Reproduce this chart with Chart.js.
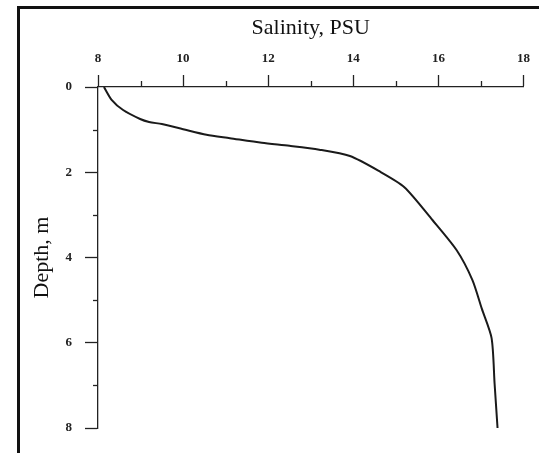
<!DOCTYPE html>
<html>
<head>
<meta charset="utf-8">
<script src="https://cdn.jsdelivr.net/npm/chart.js@4"></script>
<style>
  html, body { margin: 0; padding: 0; background: #fff; overflow: hidden; }
  #frame {
    position: absolute; left: 17px; top: 6px; width: 700px; height: 700px;
    border-left: 3px solid #111; border-top: 3px solid #111;
  }
  #profile { position: absolute; left: 0; top: 0; }
</style>
</head>
<body>
<div id="frame"></div>
<canvas id="profile" width="539" height="453"></canvas>
<script>
// Salinity profile
const salinity = [8.14, 8.32, 8.59, 8.99, 9.2, 9.5, 10.0, 10.55, 11.1, 11.85, 12.5, 13.2, 13.92, 14.6, 15.2, 15.86, 16.43, 16.8, 17.02, 17.25, 17.32, 17.39];
const depth    = [0, 0.3, 0.54, 0.75, 0.82, 0.87, 0.99, 1.12, 1.2, 1.31, 1.38, 1.47, 1.62, 1.97, 2.35, 3.12, 3.83, 4.53, 5.2, 5.89, 6.95, 8.0];

// axis ticks
const salinityTicks = [8, 10, 12, 14, 16, 18];
const salinityMinor = [9, 11, 13, 15, 17];
const depthTicks = [0, 2, 4, 6, 8];
const depthMinor = [1, 3, 5, 7];

const points = salinity.map((s, i) => ({ x: s, y: depth[i] }));

const axisColor = '#222';

// short minor ticks drawn outside the axes
const minorTicks = {
  id: 'minorTicks',
  afterDraw(chart) {
    const { ctx, chartArea, scales } = chart;
    ctx.save();
    ctx.strokeStyle = axisColor;
    ctx.lineWidth = 1.3;
    salinityMinor.forEach(v => {
      const px = Math.round(scales.x.getPixelForValue(v)) + 0.5;
      ctx.beginPath();
      ctx.moveTo(px, chartArea.top);
      ctx.lineTo(px, chartArea.top - 6);
      ctx.stroke();
    });
    depthMinor.forEach(v => {
      const py = Math.round(scales.y.getPixelForValue(v)) + 0.5;
      ctx.beginPath();
      ctx.moveTo(chartArea.left, py);
      ctx.lineTo(chartArea.left - 5, py);
      ctx.stroke();
    });
    ctx.restore();
  }
};

new Chart(document.getElementById('profile'), {
  type: 'line',
  data: {
    datasets: [{
      data: points,
      borderColor: '#1a1a1a',
      borderWidth: 2,
      pointRadius: 0,
      tension: 0.25,
      fill: false
    }]
  },
  options: {
    responsive: false,
    animation: false,
    layout: { padding: { top: 0, left: 0, right: 15, bottom: 25 } },
    plugins: { legend: { display: false }, tooltip: { enabled: false } },
    scales: {
      x: {
        type: 'linear',
        position: 'top',
        min: 8,
        max: 18,
        afterBuildTicks: s => { s.ticks = salinityTicks.map(v => ({ value: v })); },
        afterFit: s => { s.height = 87; },
        border: { color: axisColor, width: 1.3 },
        grid: { drawOnChartArea: false, drawTicks: true, tickLength: 12, tickColor: axisColor, tickWidth: 1.3 },
        ticks: {
          padding: 9,
          color: '#222',
          maxRotation: 0,
          font: { family: 'Liberation Serif', size: 13, weight: 'bold' }
        },
        title: {
          display: true,
          text: 'Salinity, PSU',
          color: '#111',
          padding: { top: 15, bottom: 0 },
          font: { family: 'Liberation Serif', size: 22, weight: 'normal' }
        }
      },
      y: {
        type: 'linear',
        position: 'left',
        reverse: true,
        min: 0,
        max: 8,
        afterBuildTicks: s => { s.ticks = depthTicks.map(v => ({ value: v })); },
        afterFit: s => { s.width = 98; },
        border: { color: axisColor, width: 1.3 },
        grid: { drawOnChartArea: false, drawTicks: true, tickLength: 13, tickColor: axisColor, tickWidth: 1.3 },
        ticks: {
          padding: 13,
          color: '#222',
          font: { family: 'Liberation Serif', size: 13, weight: 'bold' }
        },
        title: {
          display: true,
          text: 'Depth, m',
          color: '#111',
          padding: { top: 29, bottom: 0 },
          font: { family: 'Liberation Serif', size: 22, weight: 'normal' }
        }
      }
    }
  },
  plugins: [minorTicks]
});
</script>
</body>
</html>
